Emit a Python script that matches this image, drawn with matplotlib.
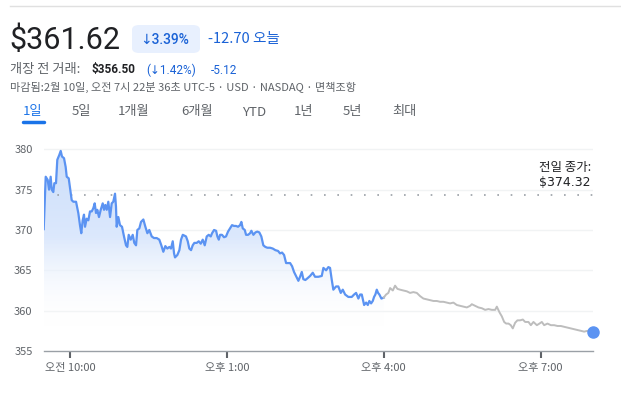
import matplotlib
matplotlib.use("Agg")
import matplotlib.pyplot as plt
import numpy as np
from matplotlib.patches import FancyBboxPatch, Polygon

plt.rcParams['font.family'] = ['Noto Sans CJK KR', 'DejaVu Sans']

# ---- data (minutes after 9:30, price) ----
reg_min = [0, 2.3, 4.6, 6.1, 8.0, 9.2, 11.0, 12.2, 14.1, 15.6, 17.9, 19.5, 21.0, 23.3, 25.2, 26.4,
           28.7, 30.2, 32.1, 34.0, 37.1, 39.7, 41.6, 43.1, 44.7, 46.2, 47.4, 49.3, 51.2, 53.1, 55.1,
           56.9, 58.5, 60.0, 61.5, 63.4, 65.4, 67.7, 69.2, 70.7, 72.3, 74.1, 76.1, 78.0, 79.8, 81.8,
           82.9, 83.7, 85.6, 87.5, 89.8, 92.1, 94.4, 95.9, 97.5, 99.8, 102.1, 103.9, 105.9, 107.4,
           109.7, 111.6, 114.3, 116.6, 118.9, 121.1, 123.9, 126.5, 129.6, 132.6, 134.9, 137.2, 139.5,
           141.8, 144.1, 146.0, 148.0, 149.5, 150.6, 153.3, 155.6, 157.5, 159.5, 161.3, 163.2, 165.2,
           167.0, 169.0, 170.9, 172.8, 175.5, 177.8, 180.1, 182.4, 184.7, 187.0, 189.3, 191.6, 193.1,
           195.4, 197.7, 199.2, 200.8, 202.3, 204.5, 206.8, 209.1, 211.4, 213.7, 216.0, 218.3, 220.6,
           222.9, 225.2, 226.7, 228.3, 230.6, 232.1, 234.4, 236.7, 238.2, 240.5, 242.8, 245.0, 247.3,
           249.6, 251.9, 254.2, 256.5, 259.6, 262.7, 265.7, 268.8, 271.0, 273.4, 275.7, 278.0, 280.3,
           282.6, 284.9, 287.1, 289.4, 292.1, 294.0, 296.0, 297.8, 300.1, 302.4, 305.5, 308.6, 311.2,
           315.0, 318.9, 320.8, 323.9, 326.5, 328.4, 330.4, 332.2, 335.3, 337.9, 340.7, 343.0, 345.7,
           349.4, 353.3, 356.0, 358.3, 360.9, 362.9, 364.8, 367.5, 369.8, 371.7, 373.5, 375.5, 377.4,
           378.9, 380.4, 382.0, 383.5, 385.0, 387.3, 390.0]
reg_price = [370.1, 376.6, 376.2, 375.0, 376.6, 375.0, 374.7, 375.8, 375.8, 378.7, 379.3, 379.8, 379.1,
             378.9, 377.8, 376.6, 376.4, 375.2, 373.7, 373.5, 373.5, 372.1, 370.6, 369.6, 371.2, 371.9,
             370.4, 371.4, 371.2, 372.3, 372.3, 372.7, 373.3, 372.1, 372.5, 371.6, 372.5, 373.3, 372.5,
             373.1, 372.5, 373.5, 371.6, 373.3, 373.5, 374.5, 372.9, 370.4, 371.6, 370.6, 370.4, 369.2,
             368.1, 367.9, 369.4, 368.8, 369.4, 368.4, 368.1, 370.0, 370.2, 371.0, 371.3, 370.4, 369.6,
             370.0, 369.2, 369.0, 369.0, 368.8, 368.1, 367.3, 368.0, 367.7, 367.9, 367.7, 368.6, 367.1,
             366.6, 366.9, 367.5, 368.8, 369.4, 369.3, 369.2, 368.6, 367.7, 367.5, 368.1, 368.4, 368.4,
             368.6, 368.3, 368.8, 368.1, 369.2, 369.4, 369.2, 369.6, 370.0, 369.9, 369.2, 368.8, 369.4,
             369.4, 369.1, 369.2, 369.8, 370.2, 370.6, 370.5, 370.5, 370.4, 370.6, 371.0, 370.2, 370.0,
             369.4, 369.4, 369.6, 369.9, 369.4, 369.7, 369.8, 369.7, 369.2, 368.1, 367.9, 367.8, 367.8,
             367.7, 367.5, 367.4, 367.1, 367.2, 366.9, 365.9, 365.9, 365.9, 365.5, 364.8, 364.3, 363.7,
             364.2, 364.8, 363.9, 363.8, 364.0, 364.3, 364.7, 364.2, 364.2, 364.3, 365.3, 365.0, 365.4,
             365.3, 363.8, 362.6, 363.0, 363.0, 362.2, 362.6, 362.0, 361.7, 361.7, 362.0, 362.2, 361.5,
             362.0, 362.0, 360.7, 361.0, 360.7, 361.2, 360.9, 361.2, 361.7, 362.0, 362.6, 362.2, 362.0,
             361.5, 361.62]

ext_min = [390.0, 392.7, 395.3, 397.3, 400.4, 403.0, 405.7, 408.8, 412.5, 416.4, 420.2, 424.0, 427.9,
           431.7, 435.5, 439.4, 443.2, 447.0, 450.9, 454.6, 458.4, 462.3, 466.1, 469.9, 473.8, 477.6,
           481.4, 485.3, 489.1, 491.0, 494.8, 498.6, 502.5, 506.3, 510.1, 514.0, 517.8, 519.7, 522.7,
           525.4, 528.1, 530.4, 533.1, 535.7, 538.0, 540.7, 543.3, 546.4, 549.5, 552.2, 556.0, 558.7,
           561.7, 565.6, 568.6, 571.3, 574.0, 577.8, 581.7, 585.5, 589.3, 593.1, 596.9, 600.7, 604.6,
           608.4, 612.2, 616.1, 619.9, 623.7, 627.6, 630.0]
ext_price = [361.62, 362.0, 362.2, 362.8, 362.5, 363.1, 362.7, 362.6, 362.5, 362.4, 362.2, 362.3, 362.2,
             361.8, 361.5, 361.4, 361.3, 361.2, 361.2, 361.1, 361.1, 361.0, 360.9, 361.0, 360.7, 360.6,
             360.5, 360.4, 360.6, 360.8, 360.6, 360.4, 360.3, 360.1, 360.2, 360.1, 360.1, 360.5, 359.8,
             359.3, 358.6, 358.4, 358.4, 358.2, 357.8, 358.5, 358.8, 358.8, 358.9, 358.6, 358.6, 358.2,
             358.6, 358.2, 358.4, 358.6, 358.2, 358.4, 358.2, 358.2, 358.1, 358.1, 358.0, 357.9, 357.8,
             357.7, 357.6, 357.5, 357.4, 357.5, 357.4, 357.4]

prev_close = 374.32
y_ticks = [355, 360, 365, 370, 375, 380]
x_tick_pos = [30, 210, 390, 570]
x_tick_labels = ["오전 10:00", "오후 1:00", "오후 4:00", "오후 7:00"]
tabs = ["1일", "5일", "1개월", "6개월", "YTD", "1년", "5년", "최대"]

BLUE_LINE = "#5b93f2"
TEXT_BLUE = "#1a62d6"
GRAY = "#5f6368"
DARK = "#202124"

W, H = 621, 396
fig = plt.figure(figsize=(W / 100, H / 100), dpi=100)
fig.patch.set_facecolor("white")

def fx(px):
    return px / W

def fy(py):
    return 1 - py / H

# ---- chart axes ----
y0, y1 = 355, 381
ax_left, ax_right = 43.7, 593
ax_bottom, ax_top = 351, 149.3 - 8.07
ax = fig.add_axes([fx(ax_left), fy(ax_bottom), fx(ax_right - ax_left), (ax_bottom - ax_top) / H])
ax.set_xlim(0, 630)
ax.set_ylim(y0, y1)
for s in ["top", "right", "left"]:
    ax.spines[s].set_visible(False)
ax.spines["bottom"].set_color("#9aa0a6")
ax.spines["bottom"].set_linewidth(1)

for t in y_ticks[1:]:
    ax.axhline(t, color="#f1f3f4", lw=1, zorder=0)

ax.set_yticks(y_ticks)
ax.set_yticklabels([str(t) for t in y_ticks])
ax.tick_params(axis="y", length=0, pad=8, labelsize=8, labelcolor=GRAY)
ax.set_xticks(x_tick_pos)
ax.set_xticklabels(x_tick_labels)
ax.tick_params(axis="x", length=5, width=1.5, color="#5f6368", pad=4, labelsize=8, labelcolor=GRAY)

# gradient fill under regular session
grad = np.linspace(0, 1, 256).reshape(-1, 1)
cmap = matplotlib.colors.LinearSegmentedColormap.from_list(
    "g", [(1, 1, 1, 0), (0.86, 0.91, 0.99, 1.0), (0.80, 0.87, 0.98, 1.0)])
im = ax.imshow(grad, extent=[0, 390, 358.0, 380.5], origin="lower", aspect="auto",
               cmap=cmap, zorder=1)
verts = [(reg_min[0], y0)] + list(zip(reg_min, reg_price)) + [(reg_min[-1], y0)]
poly = Polygon(verts, closed=True, transform=ax.transData, facecolor="none", edgecolor="none")
ax.add_patch(poly)
im.set_clip_path(poly)

ax.plot(reg_min, reg_price, color=BLUE_LINE, lw=1.6, zorder=3, solid_joinstyle="round")
ax.plot(ext_min, ext_price, color="#bdbdbd", lw=1.4, zorder=3)
ax.plot([ext_min[-1]], [ext_price[-1]], "o", color=BLUE_LINE, ms=8, zorder=4, clip_on=False)

ax.axhline(prev_close, color="#9aa0a6", lw=1.2, linestyle=(0, (1, 7)), zorder=2)
ax.text(568, 377.7, "전일 종가:", fontsize=9, color=DARK, va="center", ha="left", zorder=5)
ax.text(568, 375.85, "$374.32", fontsize=9, color=DARK, va="center", ha="left", zorder=5,
        family=["DejaVu Sans"])

# ---- header ----
fig.add_artist(plt.Line2D([fx(10), 1], [fy(6), fy(6)], color="#e0e0e0", lw=1))
fig.text(fx(9), fy(40), "$361.62", fontsize=22, color=DARK, va="center", ha="left",
         family=["Roboto", "DejaVu Sans"])
badge = FancyBboxPatch((fx(132), fy(53)), fx(68), (53 - 25) / H,
                       boxstyle="round,pad=0,rounding_size=0.012",
                       transform=fig.transFigure, facecolor="#e8f0fe", edgecolor="none")
fig.add_artist(badge)
fig.text(fx(140), fy(39.5), "↓3.39%", fontsize=10, color=TEXT_BLUE, va="center", ha="left",
         family=["Roboto", "DejaVu Sans"], fontweight="medium")
fig.text(fx(208), fy(39.5), "-12.70 오늘", fontsize=10.5, color=TEXT_BLUE, va="center", ha="left")

fig.text(fx(10), fy(70), "개장 전 거래:", fontsize=9.5, color=GRAY, va="center", ha="left")
fig.text(fx(91), fy(70), "$356.50", fontsize=8.5, color=DARK, va="center", ha="left",
         fontweight="bold", family=["Roboto", "DejaVu Sans"])
fig.text(fx(146), fy(70), "(↓1.42%)", fontsize=8.5, color=TEXT_BLUE, va="center", ha="left",
         family=["Roboto", "DejaVu Sans"])
fig.text(fx(211), fy(70), "-5.12", fontsize=8.5, color=TEXT_BLUE, va="center", ha="left",
         family=["Roboto", "DejaVu Sans"])
fig.text(fx(10), fy(87.5), "마감됨:2월 10일, 오전 7시 22분 36초 UTC-5 · USD · NASDAQ · 면책조항",
         fontsize=8, color=GRAY, va="center", ha="left")

tab_x = [33, 81, 134, 197, 254, 304, 352, 404]
for i, (t, x) in enumerate(zip(tabs, tab_x)):
    fig.text(fx(x), fy(112), t, fontsize=9.5, color=("#1a73e8" if i == 0 else GRAY),
             va="center", ha="center", fontweight="medium")
fig.add_artist(plt.Line2D([fx(23), fx(44)], [fy(122), fy(122)], color="#1a73e8", lw=2.5,
                          solid_capstyle="round"))

fig.savefig("out.png", dpi=100, facecolor="white")
